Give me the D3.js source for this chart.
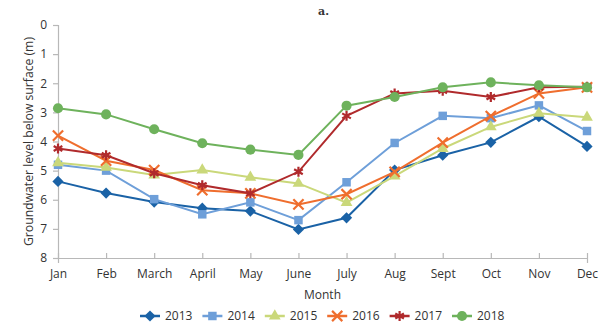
<!DOCTYPE html>
<html>
<head>
<meta charset="utf-8">
<script src="https://cdn.jsdelivr.net/npm/d3@7"></script>
<style>
    body { margin: 0; background: #fff; }
    text { font-family: "Open Sans", "Noto Sans", sans-serif; fill: #333; }
</style>
</head>
<body>
<div id="chart"></div>
<script>
const months = ['Jan', 'Feb', 'March', 'April', 'May', 'June', 'July', 'Aug', 'Sept', 'Oct', 'Nov', 'Dec'];
const years = ['2013', '2014', '2015', '2016', '2017', '2018'];
const yTicks = [0, 1, 2, 3, 4, 5, 6, 7, 8];

const values2013 = [5.37, 5.77, 6.08, 6.29, 6.39, 7.02, 6.62, 4.98, 4.47, 4.03, 3.15, 4.17];
const values2014 = [4.8, 5.0, 5.98, 6.5, 6.09, 6.7, 5.4, 4.05, 3.12, 3.2, 2.76, 3.64];
const values2015 = [4.73, 4.89, 5.15, 4.98, 5.23, 5.44, 6.1, 5.19, 4.24, 3.5, 3.03, 3.17];
const values2016 = [3.8, 4.66, 4.98, 5.67, 5.78, 6.16, 5.81, 5.04, 4.04, 3.13, 2.35, 2.14];
const values2017 = [4.24, 4.47, 5.09, 5.5, 5.78, 5.04, 3.12, 2.35, 2.26, 2.47, 2.14, 2.12];
const values2018 = [2.86, 3.07, 3.58, 4.06, 4.28, 4.46, 2.77, 2.47, 2.14, 1.97, 2.07, 2.14];

const series = [
    {year: years[0], values: values2013, color: '#1a62a6', symbol: d3.symbolDiamond2, size: 80},
    {year: years[1], values: values2014, color: '#6e9fd9', symbol: d3.symbolSquare, size: 72},
    {year: years[2], values: values2015, color: '#cad87a', symbol: d3.symbolTriangle, size: 60},
    {year: years[3], values: values2016, color: '#ef6e2e', symbol: d3.symbolX, size: 70},
    {year: years[4], values: values2017, color: '#b02a2c', symbol: d3.symbolAsterisk, size: 70},
    {year: years[5], values: values2018, color: '#6eb25c', symbol: d3.symbolCircle, size: 80}
];

const width = 615;
const height = 335;
const margin = {top: 25, right: 28, bottom: 77, left: 58};
const chartWidth = width - margin.left - margin.right;
const chartHeight = height - margin.top - margin.bottom;

const svg = d3.select('#chart')
  .append('svg')
    .attr('width', width)
    .attr('height', height);

svg.append('text')
    .attr('x', 318)
    .attr('y', 15)
    .style('font-family', '"DejaVu Serif", serif')
    .attr('font-weight', 'bold')
    .attr('font-size', 11)
    .text('a.');

const container = svg.append('g')
    .attr('transform', `translate(${margin.left},${margin.top})`);

const xScale = d3.scalePoint()
    .domain(months)
    .range([0, chartWidth]);

const yScale = d3.scaleLinear()
    .domain([0, 8])
    .range([0, chartHeight]);

// axes
const xAxis = d3.axisBottom(xScale).tickSize(5).tickPadding(6);
const yAxis = d3.axisLeft(yScale).tickValues(yTicks).tickSize(5).tickPadding(6);

const xg = container.append('g')
    .attr('transform', `translate(0,${chartHeight})`)
    .call(xAxis);
const yg = container.append('g').call(yAxis);

[xg, yg].forEach(g => {
    g.selectAll('path, line').attr('stroke', '#b8b8b8').attr('stroke-width', 1.2);
    g.selectAll('text').attr('font-size', 12).style('fill', '#333');
});
xg.selectAll('line').attr('transform', 'translate(0,-5)');

svg.append('text')
    .attr('x', margin.left + chartWidth / 2)
    .attr('y', 299)
    .attr('text-anchor', 'middle')
    .attr('font-size', 12)
    .text('Month');

svg.append('text')
    .attr('transform', `translate(33,${margin.top + chartHeight / 2}) rotate(-90)`)
    .attr('text-anchor', 'middle')
    .attr('font-size', 12.2)
    .text('Groundwater level below surface (m)');

const line = d3.line()
    .x((d, i) => xScale(months[i]))
    .y(d => yScale(d));

const seriesG = container.selectAll('.series')
    .data(series)
  .enter().append('g')
    .attr('class', 'series');

seriesG.append('path')
    .attr('d', d => line(d.values))
    .attr('fill', 'none')
    .attr('stroke', d => d.color)
    .attr('stroke-width', 2);

function drawMarker(sel, s) {
    const isStroke = s.symbol === d3.symbolX || s.symbol === d3.symbolAsterisk;
    sel.attr('d', d3.symbol().type(s.symbol).size(s.size))
        .attr('fill', isStroke ? 'none' : s.color)
        .attr('stroke', isStroke ? s.color : 'none')
        .attr('stroke-width', isStroke ? 2.2 : 0);
}

seriesG.each(function(s) {
    d3.select(this).selectAll('.marker')
        .data(s.values)
      .enter().append('path')
        .attr('class', 'marker')
        .attr('transform', (d, i) => `translate(${xScale(months[i])},${yScale(d)})`)
        .call(drawMarker, s);
});

// legend
const legend = svg.append('g')
    .attr('transform', 'translate(140,316)');

const items = legend.selectAll('.legend-item')
    .data(series)
  .enter().append('g')
    .attr('class', 'legend-item')
    .attr('transform', (d, i) => `translate(${i * 62.4},0)`);

items.append('line')
    .attr('x1', 0)
    .attr('x2', 20)
    .attr('stroke', d => d.color)
    .attr('stroke-width', 2.5);

items.append('path')
    .attr('transform', 'translate(10,0)')
    .each(function(s) { d3.select(this).call(drawMarker, s); });

items.append('text')
    .attr('x', 25)
    .attr('dy', '0.35em')
    .attr('font-size', 12)
    .text(d => d.year);
</script>
</body>
</html>
